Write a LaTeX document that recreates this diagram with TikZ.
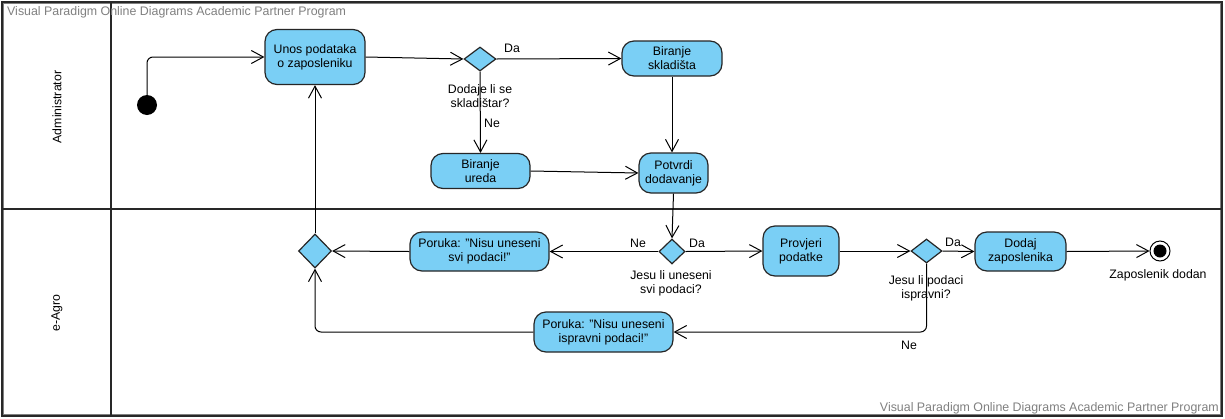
\documentclass[tikz,border=0pt]{standalone}
\usepackage{fontspec}
\setmainfont{Liberation Sans}
\usetikzlibrary{arrows.meta,shapes.geometric}
\definecolor{actfill}{RGB}{122,207,245}
\definecolor{wm}{RGB}{128,128,128}
\definecolor{frame}{RGB}{40,40,40}
\begin{document}
\begin{tikzpicture}[x=1pt,y=-1pt,
  every node/.style={font=\fontsize{12.3}{14}\selectfont},
  act/.style={draw=black!85, line width=1.2pt, fill=actfill, rounded corners=12pt, align=center, inner sep=0pt},
  dec/.style={draw=black!85, line width=1.2pt, fill=actfill, diamond, inner sep=0pt},
  flow/.style={draw=black, line width=1pt, -{Straight Barb[length=12pt,width=13pt,line width=1pt]}, rounded corners=6pt},
  lbl/.style={inner sep=0pt, align=center},
  wmark/.style={inner sep=0pt, text=wm, font=\fontsize{12.4}{14}\selectfont},
  lane/.style={draw=frame, line width=2pt}
  ]
\useasboundingbox (0,0) rectangle (1225,418);
\fill[white] (0,0) rectangle (1225,418);
% frame and lanes
\draw[lane] (1.5,1.5) rectangle (1222,416);
\draw[draw=wm, line width=0.8pt] (3.5,3.5) rectangle (1220,414);
\draw[lane] (111,1.5) -- (111,416);
\draw[lane] (1.5,209) -- (1222,209);
\node[wmark, anchor=west] (wm1) at (7,12) {Visual Paradigm Online Diagrams Academic Partner Program};
\node[wmark, anchor=east] (wm2) at (1219,408) {Visual Paradigm Online Diagrams Academic Partner Program};
\node[lbl, rotate=90] (laneA) at (57,107) {Administrator};
\node[lbl, rotate=90] (laneB) at (57,313) {e-Agro};

% nodes
\node[circle, fill=black, minimum size=20pt, inner sep=0pt] (init) at (147,105) {};
\node[act, minimum width=100pt, minimum height=55pt] (unos) at (315,57) {Unos podataka\\o zaposleniku};
\node[dec, minimum width=32pt, minimum height=24pt] (d1) at (480,59) {};
\node[act, minimum width=100pt, minimum height=35pt] (skl) at (672,58.5) {Biranje\\skladišta};
\node[act, minimum width=99pt, minimum height=35pt] (ured) at (480.5,171) {Biranje\\ureda};
\node[act, minimum width=69pt, minimum height=40pt] (potv) at (673.5,173) {Potvrdi\\dodavanje};
\node[dec, minimum width=33pt, minimum height=34pt] (d2) at (315,251) {};
\node[act, minimum width=139pt, minimum height=39pt] (p1) at (479.5,251.5) {Poruka: "Nisu uneseni\\svi podaci!"};
\node[dec, minimum width=26pt, minimum height=25pt] (d3) at (672,251.5) {};
\node[act, minimum width=76pt, minimum height=50pt] (prov) at (801,251) {Provjeri\\podatke};
\node[dec, minimum width=31pt, minimum height=24pt] (d4) at (926.5,251) {};
\node[act, minimum width=91pt, minimum height=39pt] (dodaj) at (1020.5,251.5) {Dodaj\\zaposlenika};
\node[circle, draw=black, line width=1pt, fill=white, minimum size=20pt, inner sep=0pt] (fin) at (1160,251) {};
\node[circle, fill=black, minimum size=13pt, inner sep=0pt] (fininner) at (fin) {};
\node[act, minimum width=139pt, minimum height=40pt] (p2) at (603.5,332) {Poruka: "Nisu uneseni\\ispravni podaci!"};

% labels
\node[lbl] (l1) at (480,96) {Dodaje li se\\skladištar?};
\node[lbl] (da1) at (512,48) {Da};
\node[lbl] (ne1) at (492,123) {Ne};
\node[lbl] (l3) at (671,283) {Jesu li uneseni\\svi podaci?};
\node[lbl] (ne3) at (638,243) {Ne};
\node[lbl] (da3) at (697,243) {Da};
\node[lbl] (l4) at (926,288) {Jesu li podaci\\ispravni?};
\node[lbl] (da4) at (953,242) {Da};
\node[lbl] (ne4) at (909,345) {Ne};
\node[lbl] (lfin) at (1158,275) {Zaposlenik dodan};

% flows
\draw[flow] (init.north) |- (unos.west);
\draw[flow] (unos.east) -- (d1.west);
\draw[flow] (d1.east) -- (skl.west);
\draw[flow] (d1.south) -- (ured.north);
\draw[flow] (skl.south) -- (skl.south |- potv.north);
\draw[flow] (ured.east) -- (potv.west);
\draw[flow] (potv.south) -- (d3.north);
\draw[flow] (d3.west) -- (p1.east);
\draw[flow] (d3.east) -- (prov.west);
\draw[flow] (prov.east) -- (d4.west);
\draw[flow] (d4.east) -- (dodaj.west);
\draw[flow] (dodaj.east) -- (fin.west);
\draw[flow] (d4.south) |- (p2.east);
\draw[flow] (p1.west) -- (d2.east);
\draw[flow] (p2.west) -| (d2.south);
\draw[flow] (d2.north) -- (unos.south);
\end{tikzpicture}
\end{document}
